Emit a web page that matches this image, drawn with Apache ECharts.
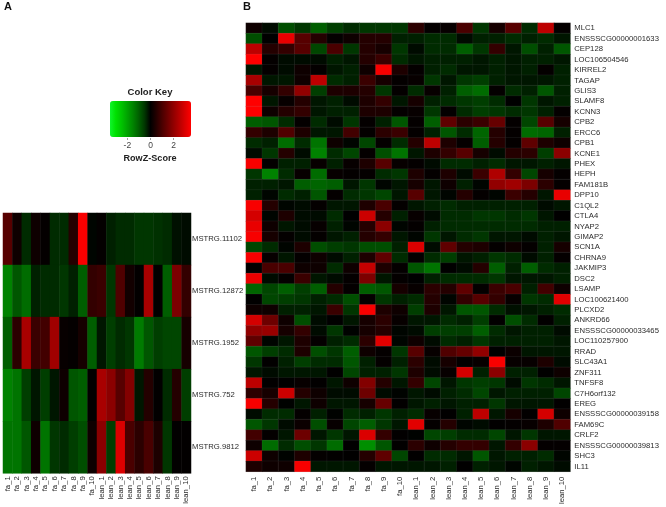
<!DOCTYPE html>
<html><head><meta charset="utf-8">
<style>html,body{margin:0;padding:0;background:#fff}#c{width:666px;height:507px}</style>
<script src="https://cdn.jsdelivr.net/npm/echarts@6/dist/echarts.min.js"></script>
</head><body><div id="c"></div>
<script>
const samples = ['fa_1','fa_2','fa_3','fa_4','fa_5','fa_6','fa_7','fa_8','fa_9','fa_10','lean_1','lean_2','lean_3','lean_4','lean_5','lean_6','lean_7','lean_8','lean_9','lean_10'];
const lncRNAs = ['MSTRG.11102','MSTRG.12872','MSTRG.1952','MSTRG.752','MSTRG.9812'];
const genes = ['MLC1','ENSSSCG00000001633','CEP128','LOC106504546','KIRREL2','TAGAP','GLIS3','SLAMF8','KCNN3','CPB2','ERCC6','CPB1','KCNE1','PHEX','HEPH','FAM181B','DPP10','C1QL2','CTLA4','NYAP2','GIMAP2','SCN1A','CHRNA9','JAKMIP3','DSC2','LSAMP','LOC100621400','PLCXD2','ANKRD66','ENSSSCG00000033465','LOC110257900','RRAD','SLC43A1','ZNF311','TNFSF8','C7H6orf132','EREG','ENSSSCG00000039158','FAM69C','CRLF2','ENSSSCG00000039813','SHC3','IL11'];
const keyTicks = [-2,0,2];
const valuesA = [
[1.2,0.2,-0.4,0.2,0.05,-0.4,-0.4,0.5,3.4,-0.05,0.05,-0.3,-0.4,-0.4,-0.5,-0.5,-0.45,-0.4,-0.15,-0.1],
[-1.5,-0.9,-1.2,-0.3,-0.4,-0.4,-0.5,-0.3,-1.0,0.7,0.8,-0.5,1.1,0.25,0.03,2.3,0.03,-1.0,1.7,0.7],
[-1.0,0.6,2.3,0.8,0.9,2.2,0.1,0.05,0.3,-1.0,-0.2,-0.6,-0.4,-0.5,-1.4,-0.9,-0.6,-0.7,-0.7,0.3],
[-1.5,-1.3,-0.6,-0.2,-0.6,-0.2,0.2,-0.9,-1.0,0.03,2.3,1.9,1.2,1.8,-0.2,0.5,0.03,-0.4,0.5,-0.6],
[-1.3,-1.3,-0.9,0.2,-1.3,-0.5,-0.4,-0.6,-0.8,0.2,1.9,-0.6,3.0,1.0,0.6,1.0,0.4,-0.5,0.03,0.03]
];
const valuesB = [
[0.2,-0.1,-0.8,-0.5,-1.0,-0.6,-0.4,-0.5,-0.5,-0.5,0.6,0.05,0.1,1.0,-0.5,0.3,1.2,-0.4,2.6,0.05],
[-0.8,0,3.2,1.2,0.5,0.05,0.2,0.5,0.5,-0.3,-0.3,-0.4,-0.4,-0.1,-0.3,-0.3,-0.4,-0.3,-0.4,-0.2],
[2.6,0.5,0.7,1.2,-0.7,1.0,-0.5,0.5,0.3,-0.5,-0.1,-0.4,-0.4,-1.0,-0.5,0.7,-0.2,-0.8,-0.3,-0.9],
[3.5,0.05,-0.1,-0.1,-0.1,-0.3,-0.2,0.5,0.8,-0.4,-0.2,-0.3,-0.3,-0.3,-0.2,-0.3,-0.2,-0.3,-0.3,-0.2],
[-0.2,0.05,-0.1,0.2,0.05,-0.2,-0.3,0.2,3.4,0.4,0.05,-0.3,-0.4,-0.2,-0.2,-0.3,-0.2,-0.3,0.05,-0.3],
[2.3,-0.2,-0.2,0.2,2.6,-0.4,-0.3,0.8,0.3,0.05,0.1,-0.5,-0.2,-0.5,-0.6,-0.3,-0.2,-0.2,-0.2,-0.3],
[1.0,0.3,0.7,2.0,-0.6,0.4,0.4,0.5,-0.5,0.05,-0.4,0.1,-0.3,-1.0,-1.2,0.05,-0.4,-0.3,-0.9,-0.3],
[3.5,-0.2,0.1,0.5,-0.2,-0.3,-0.1,0.4,0.7,-0.2,0.3,-0.3,-0.4,-0.5,-0.6,-0.4,0.0,-0.5,-0.2,-0.3],
[3.5,0.2,0.5,0.7,-0.2,-0.3,-0.3,0.4,0.4,0.05,0.1,-0.5,0.05,-0.4,-0.6,-0.5,-0.4,-0.5,-0.3,0.05],
[-1.0,-0.9,-0.4,0.05,-0.4,-0.1,-0.5,0.05,-0.3,-0.9,0.05,-1.0,1.3,0.6,0.8,1.4,0.05,-0.7,1.2,0.3],
[0.7,0.4,1.1,0.4,-0.2,-0.2,0.9,0.05,0.6,0.8,0.05,-0.3,-0.9,-0.4,-1.1,0.5,0.05,-1.2,-1.1,-0.3],
[-0.4,-0.3,-1.2,-0.4,-1.3,0.2,-0.05,-0.7,0.05,-0.4,0.5,2.6,0.4,0.05,-1.0,0.5,0.05,1.3,0.4,0.2],
[-0.1,-0.5,0.5,-0.1,-1.5,-0.4,-0.7,0.05,-0.8,-1.3,-0.2,0.4,0.7,1.2,0.3,-0.1,0.5,0.6,-0.6,1.9],
[3.4,0.05,-0.3,-0.3,0.1,-0.3,0.1,0.4,1.2,0.1,0.05,-0.1,-0.4,-0.4,-0.3,-0.4,-0.2,-0.2,-0.3,-0.2],
[-0.5,-1.5,-0.4,0.1,-1.2,0.1,0.05,0.05,-0.4,-0.5,0.4,0.05,0.4,-0.1,0.8,2.4,0.7,-0.7,0.3,0.05],
[-0.3,-0.3,-0.2,-1.0,-1.1,-1.0,-0.2,-0.5,-0.05,-0.2,0.3,-0.2,0.2,-0.3,-0.05,2.0,2.2,1.7,0.6,0.05],
[-0.3,-0.05,-0.4,-0.3,-0.9,0.05,-0.4,-0.5,-0.7,-0.2,1.2,-0.2,-0.05,0.5,0.05,-0.05,0.8,0.5,-0.2,3.2],
[3.4,0.5,-0.05,-0.1,0.05,-0.2,-0.2,0.4,1.0,0.05,-0.2,-0.3,-0.4,-0.3,-0.3,-0.3,-0.3,-0.3,-0.1,-0.2],
[2.9,-0.05,0.4,-0.1,-0.1,-0.4,0,2.8,0.5,-0.3,0.1,-0.1,-0.4,-0.4,-0.5,-0.5,-0.4,-0.5,-0.2,0.02],
[3.2,0.2,-0.2,-0.1,0.1,-0.3,-0.05,0.5,1.9,-0.05,0.05,-0.3,-0.4,-0.4,-0.4,-0.4,-0.4,-0.4,-0.3,-0.3],
[3.4,0.3,0.05,-0.1,0.05,-0.2,-0.3,0.5,0.7,-0.2,-0.05,-0.5,-0.2,-0.4,-0.5,-0.2,-0.2,-0.1,-0.3,-0.2],
[-0.7,-0.4,-0.05,0.4,-0.8,-0.6,-0.5,-0.8,-0.8,-0.3,3.0,-0.1,1.3,0.5,0.4,0.05,0.2,0.05,-0.3,0.3],
[3.4,0.1,-0.2,0.05,0.2,-0.1,-0.3,0.4,1.3,-0.4,0.05,-0.4,-0.6,-0.2,-0.3,-0.5,-0.4,-0.1,-0.3,0.05],
[0.02,1.0,1.0,0.2,0.2,-0.4,0.2,2.7,0.4,0.05,-0.9,-1.3,0.02,-0.1,0.5,-1.0,-0.3,-1.0,-0.4,-0.3],
[3.2,-0.1,0.05,0.8,-0.2,-0.1,0.05,1.7,-0.2,0.05,0,-0.3,-0.4,-0.4,-0.4,-0.5,-0.2,-0.2,-0.2,-0.3],
[-1.1,-0.7,-1.0,-0.6,-1.0,0.5,0.05,-1.0,-0.9,0.3,0.1,0.6,0.5,1.3,0.05,0.8,1.0,-0.3,0.9,0.2],
[0.02,-0.7,-0.6,-0.5,-0.3,-0.4,-0.8,0.05,-0.5,-0.3,-0.4,0.5,-0.05,0.7,1.2,0.7,0.1,-0.5,-0.4,3.1],
[0.2,0.2,-0.3,-0.3,-0.2,0.8,-0.5,3.4,0.4,0.2,-0.6,0.4,-0.2,-0.9,-0.9,-0.4,-0.15,-0.2,-0.3,-0.4],
[2.9,1.5,0.2,-0.8,-0.1,0.02,-0.2,0.3,0.6,0.1,-0.2,-0.2,-0.4,-0.3,-0.6,0.03,-0.8,-0.4,0.03,-0.3],
[2.0,2.1,0.3,0.7,-0.1,-0.5,-0.02,0.3,0.5,-0.05,-0.1,-0.6,-0.6,-0.6,-1.0,-0.4,-0.2,-0.3,-0.3,-0.1],
[1.3,-0.05,-0.2,0.4,0.05,-0.3,-0.4,0.6,3.1,-0.05,0.2,-0.1,-0.4,-0.3,-0.5,-0.3,-0.3,-0.3,-0.3,-0.2],
[-0.9,-0.6,-0.4,0.4,-0.8,-0.5,-1.0,0.2,0.05,-0.5,1.2,0.1,1.1,1.4,2.0,0,0.15,-0.2,-0.2,-0.2],
[-0.5,0.03,-0.3,-0.6,-0.4,-0.4,-0.9,-0.3,0.05,-0.3,0.6,-0.1,0.3,0.05,0.1,3.4,0.1,0.1,0.4,-0.1],
[-0.2,-0.1,-0.2,-0.2,-0.2,0.02,-0.7,-0.3,-0.3,-0.5,0.4,-0.1,0.1,2.9,-0.3,1.9,-0.3,-0.3,0.02,0.2],
[2.6,0.03,0.02,0.1,0.03,-0.2,0.2,1.8,0.5,-0.2,0.7,-0.7,-0.2,-0.5,-0.6,-0.5,-0.1,-0.5,-0.4,-0.2],
[0.6,0.3,2.8,0.5,0.2,-0.1,-0.1,1.5,-0.1,-0.03,-0.2,-0.1,-0.3,-0.4,-0.7,-0.2,-0.3,-0.3,-0.3,-0.7],
[3.4,0.5,-0.02,-0.2,0.2,-0.2,-0.2,0.3,1.4,0.03,-0.2,-0.3,-0.2,-0.3,-0.3,-0.5,-0.2,-0.2,-0.2,0.03],
[-0.1,-0.4,-0.4,0.05,-0.3,-0.02,-0.4,-0.3,-0.5,-0.3,-0.4,0.1,0.02,-0.3,2.6,-0.2,0.3,0.03,2.9,0.2],
[-0.9,-0.5,-0.1,0.15,-0.8,0.1,-0.7,-1.0,-0.5,-0.2,3.1,0.05,0.5,-0.05,-0.1,0.03,0.05,0.1,0.4,1.1],
[0.9,0.05,-0.2,1.5,-0.2,-0.5,-0.2,3.0,0.7,0.03,-0.02,-0.7,-0.6,-0.4,-0.4,-0.7,-0.2,-0.5,-0.2,-0.2],
[0.2,-1.2,-0.4,-0.8,-0.5,-1.2,0.02,-1.7,-0.9,0.03,0.6,0.2,0.5,0.7,0.7,-0.2,0.7,1.9,0.05,0.05],
[2.8,0.2,-0.03,0.4,0.05,0.03,0.02,0.5,1.3,-0.7,0.02,-0.4,-0.4,-0.2,-0.9,-0.2,-0.3,-0.3,-0.4,-0.05],
[0.4,0.2,0.2,3.4,-0.2,-0.2,-0.2,0.05,-0.2,-0.2,-0.2,-0.2,-0.3,0.02,-0.3,-0.2,-0.05,-0.3,-0.2,-0.1]
];
const keyColors = ['#0ff52c','#00e100','#00c300','#00a300','#008200','#005e00','#003600','#000000','#240000','#490000','#6d0000','#920000','#b60000','#db0000','#ff0000'];

const FONT = '"Liberation Sans", Arial, sans-serif';
const TXT = '#2b2b2b';
const cells = rows => rows.flatMap((r, y) => r.map((v, x) => [x, y, v]));
const heatStyle = { borderColor: 'rgba(130,130,130,0.22)', borderWidth: 0.5 };
const xCat = (gridIndex, margin) => ({
  type: 'category', gridIndex, data: samples, position: 'bottom',
  axisLine: {show: false}, axisTick: {show: false}, splitLine: {show: false},
  axisLabel: {interval: 0, rotate: 90, fontSize: 7.7, color: TXT, fontFamily: FONT, margin}
});
const yCat = (gridIndex, data, margin) => ({
  type: 'category', gridIndex, data, inverse: true, position: 'right',
  axisLine: {show: false}, axisTick: {show: false}, splitLine: {show: false},
  axisLabel: {interval: 0, fontSize: 7.7, color: TXT, fontFamily: FONT, margin}
});
const chart = echarts.init(document.getElementById('c'), null, {renderer: 'canvas'});
chart.setOption({
  animation: false,
  backgroundColor: '#fff',
  grid: [
    {left: 3, top: 213, width: 188, height: 260.3},
    {left: 246, top: 23, width: 324.3, height: 450.3},
    {left: 110, top: 137, width: 81, height: 1}
  ],
  xAxis: [xCat(0, 3), xCat(1, 5), {
    type: 'value', gridIndex: 2, min: -3.5, max: 3.5, position: 'bottom',
    axisLine: {show: false}, splitLine: {show: false},
    axisTick: {show: true, length: 2, customValues: keyTicks, lineStyle: {color: '#777', width: 0.7}},
    axisLabel: {customValues: keyTicks, fontSize: 8.5, color: '#444', fontFamily: FONT, margin: 3}
  }],
  yAxis: [yCat(0, lncRNAs, 1), yCat(1, genes, 4), {
    type: 'value', gridIndex: 2, show: false, min: 0, max: 1
  }],
  visualMap: {
    type: 'continuous', min: -3.5, max: 3.5, seriesIndex: [0, 1],
    orient: 'horizontal', left: 110, top: 101, itemWidth: 36, itemHeight: 81,
    padding: 0, calculable: false, showLabel: false, text: null, hoverLink: false,
    inRange: {color: keyColors}
  },
  series: [
    {type: 'heatmap', xAxisIndex: 0, yAxisIndex: 0, data: cells(valuesA), progressive: 0, itemStyle: {borderWidth: 0}},
    {type: 'heatmap', xAxisIndex: 1, yAxisIndex: 1, data: cells(valuesB), progressive: 0, itemStyle: heatStyle}
  ],
  graphic: [
    {type: 'text', x: 4, y: 7, style: {text: 'A', font: 'bold 11px ' + FONT, fill: '#111', textVerticalAlign: 'middle'}},
    {type: 'text', x: 243, y: 7, style: {text: 'B', font: 'bold 11px ' + FONT, fill: '#111', textVerticalAlign: 'middle'}},
    {type: 'text', x: 150, y: 92, style: {text: 'Color Key', font: 'bold 9.5px ' + FONT, fill: '#222', textAlign: 'center', textVerticalAlign: 'middle'}},
    {type: 'text', x: 150, y: 158, style: {text: 'RowZ-Score', font: 'bold 9.1px ' + FONT, fill: '#222', textAlign: 'center', textVerticalAlign: 'middle'}}
  ]
});
</script></body></html>
